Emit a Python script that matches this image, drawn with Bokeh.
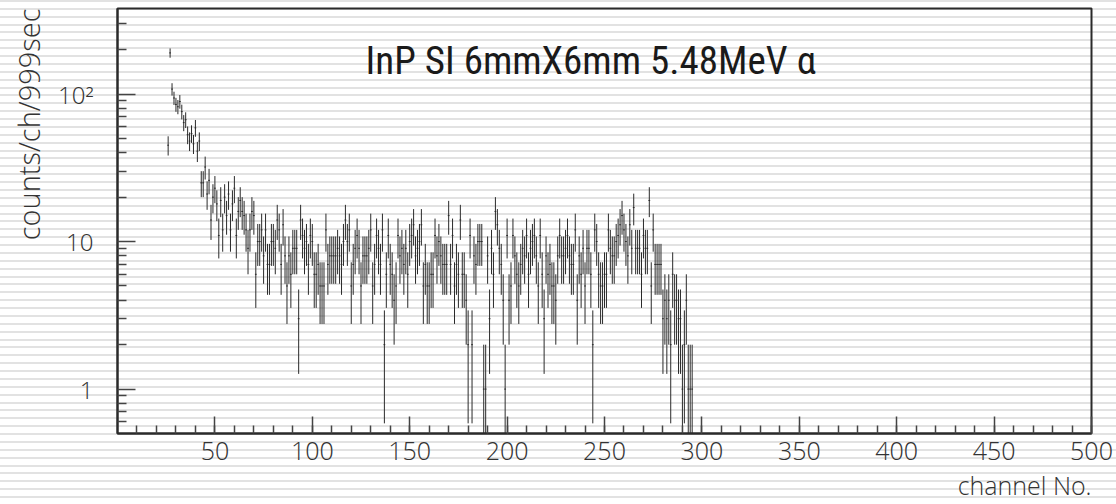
import numpy as np
from bokeh.plotting import figure
from bokeh.models import FixedTicker, Label, Range1d, ColumnDataSource, Title
from bokeh.embed import file_html
from bokeh.resources import INLINE

# ---- data ----
first_channel = 26
counts = [
    45, 190, 108, 94, 85, 82, 89, 76, 64, 67, 53, 48, 54, 46, 59, 41, 48, 25, 25, 32,  # 26-45
    21, 26, 14, 20, 23, 18, 11, 19, 12, 20, 15, 21, 12, 18, 23, 11, 16, 19, 16, 15,    # 46-65
    12, 9, 12, 16, 15, 6, 10, 10, 12, 8, 12, 7, 7, 10, 10, 9, 14, 12, 7, 13,           # 66-85
    8, 5, 8, 6, 9, 9, 9, 3, 14, 11, 9, 10, 7, 11, 10, 6, 6, 7, 5, 5,                   # 86-105
    5, 12, 7, 8, 8, 8, 8, 9, 8, 7, 10, 14, 10, 12, 5, 7, 9, 11, 9, 5,                  # 106-125
    8, 8, 8, 9, 12, 5, 7, 11, 9, 7, 12, 2, 6, 11, 7, 6, 4, 5, 11, 8,                   # 126-145
    9, 7, 9, 6, 10, 11, 13, 8, 9, 10, 13, 5, 7, 5, 5, 6, 6, 11, 8, 10,                 # 146-165
    8, 7, 7, 7, 15, 7, 11, 5, 7, 6, 14, 6, 6, 4, 2, 11, 2, 8, 7, 10,                   # 166-185
    10, 10, 1, 1, 8, 3, 9, 6, 16, 13, 9, 7, 4, 1, 11, 4, 5, 11, 8, 6,                  # 186-205
    5, 7, 9, 8, 11, 6, 9, 10, 11, 8, 5, 11, 6, 3, 8, 6, 7, 5, 5, 4,                    # 206-225
    8, 11, 8, 8, 9, 11, 8, 7, 7, 12, 4, 8, 6, 9, 5, 9, 9, 6, 2, 12,                    # 226-245
    10, 6, 5, 5, 6, 6, 12, 9, 8, 8, 10, 11, 13, 15, 12, 10, 8, 13, 9, 17,              # 246-265
    9, 9, 9, 6, 11, 9, 9, 19, 5, 12, 7, 7, 7, 7, 3, 4, 3, 4, 2, 6,                     # 266-285
    4, 4, 3, 3, 1, 2, 4, 1, 1, 1,                                                       # 286-295
]
x_major = [50, 100, 150, 200, 250, 300, 350, 400, 450, 500]
y_major = [1, 10, 100]
y_major_labels = {1: "1", 10: "10", 100: "10\u00b2"}

channels = np.arange(first_channel, first_channel + len(counts))
n = np.array(counts, dtype=float)
err = np.sqrt(n)
src = ColumnDataSource(dict(
    x=channels,
    y=n,
    lo=np.maximum(n - err, 0.3),
    hi=n + err,
    xl=channels - 0.45,
    xr=channels + 0.45,
))

INK = "#2a2a2a"
TXT = "#333333"
LIGHT = "Open Sans Light"

p = figure(width=1116, height=504, x_range=Range1d(0, 500), y_range=Range1d(0.5, 380),
           y_axis_type="log", output_backend="svg", toolbar_location=None, title=None,
           min_border_left=117, min_border_right=25, min_border_top=8, min_border_bottom=70)

p.background_fill_color = None
p.border_fill_color = None
p.outline_line_color = INK
p.outline_line_width = 2
p.xgrid.visible = False
p.ygrid.visible = False
p.styles = {"background": "repeating-linear-gradient(to bottom, #e2e2e2 0px, #e2e2e2 2px, #ffffff 2px, #ffffff 7.875px)"}

# error bars
p.segment(x0="x", y0="lo", x1="x", y1="hi", source=src, line_color=INK, line_width=1)
p.segment(x0="xl", y0="y", x1="xr", y1="y", source=src, line_color=INK, line_width=1)

# x axis
xa = p.xaxis[0]
xa.ticker = FixedTicker(ticks=x_major, minor_ticks=list(range(10, 501, 10)))
xa.major_tick_in = 17
xa.major_tick_out = 0
xa.minor_tick_in = 8
xa.minor_tick_out = 0
xa.axis_line_width = 2
xa.axis_line_color = INK
xa.major_tick_line_color = "#444"
xa.minor_tick_line_color = "#444"
xa.major_tick_line_width = 1.5
xa.minor_tick_line_width = 1.5
xa.major_label_text_font = LIGHT
xa.major_label_text_font_size = "25px"
xa.major_label_text_color = TXT
xa.major_label_standoff = 8

# y axis
ya = p.yaxis[0]
yminor = [0.6, 0.7, 0.8, 0.9] + [k * d for d in (1, 10) for k in range(2, 10)] + [200, 300]
ya.ticker = FixedTicker(ticks=y_major, minor_ticks=yminor)
ya.major_label_overrides = y_major_labels
ya.major_tick_in = 18
ya.major_tick_out = 0
ya.minor_tick_in = 9
ya.minor_tick_out = 0
ya.axis_line_width = 2
ya.axis_line_color = INK
ya.major_tick_line_color = "#444"
ya.minor_tick_line_color = "#444"
ya.major_tick_line_width = 1.5
ya.minor_tick_line_width = 1.5
ya.major_label_text_font = LIGHT
ya.major_label_text_font_size = "24px"
ya.major_label_text_color = TXT
ya.major_label_standoff = 24

# axis titles (ROOT style: at the end of each axis)
p.add_layout(Title(text="channel No.", align="right", text_font=LIGHT,
                   text_font_size="25px", text_font_style="normal", text_color=TXT,
                   standoff=6), "below")
p.add_layout(Title(text="counts/ch/999sec", align="right", vertical_align="top",
                   text_font=LIGHT, text_font_size="29px", text_font_style="normal",
                   text_color=TXT, standoff=12), "left")

# chart title inside the frame
p.add_layout(Label(x=248, y=373, x_units="screen", y_units="screen",
                   text="InP SI 6mmX6mm 5.48MeV \u03b1",
                   text_align="left", text_baseline="alphabetic",
                   text_font="Roboto Condensed", text_font_size="39px", text_color="#1a1a1a"))

open("out.html", "w").write(file_html(p, INLINE))
